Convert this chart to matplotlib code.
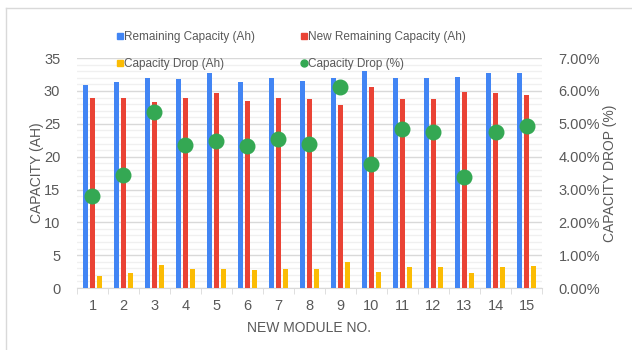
import numpy as np
import matplotlib.pyplot as plt
from matplotlib.lines import Line2D
from matplotlib.ticker import MultipleLocator, FuncFormatter

plt.rcParams['font.family'] = ['Liberation Sans', 'DejaVu Sans']

modules = [str(i) for i in range(1, 16)]
remaining = [30.9, 31.3, 31.9, 31.8, 32.7, 31.3, 32.0, 31.5, 31.9, 33.0, 32.0, 31.9, 32.1, 32.8, 32.7]
new_remaining = [29.0, 28.9, 28.3, 28.9, 29.7, 28.5, 29.0, 28.7, 27.8, 30.6, 28.8, 28.8, 29.9, 29.7, 29.4]
drop_ah = [1.9, 2.3, 3.5, 2.9, 2.9, 2.8, 2.9, 2.9, 4.0, 2.5, 3.2, 3.2, 2.3, 3.2, 3.3]
drop_pct = [2.81, 3.44, 5.35, 4.36, 4.48, 4.33, 4.55, 4.39, 6.11, 3.79, 4.83, 4.75, 3.37, 4.75, 4.93]

BLUE = '#4285F4'
RED = '#EA4335'
YELLOW = '#FBBC04'
GREEN = '#34A853'
TXT = '#595959'

fig = plt.figure(figsize=(6.32, 3.5), dpi=100)
ax = fig.add_axes([0.1218, 0.177, 0.7358, 0.657])

x = np.arange(len(modules))
w = 0.16
off = 0.215
ax.bar(x - off, remaining, w, color=BLUE, zorder=3)
ax.bar(x, new_remaining, w, color=RED, zorder=3)
ax.bar(x + off, drop_ah, w, color=YELLOW, zorder=3)

ax.set_xlim(-0.5, len(modules) - 0.5)
ax.set_ylim(0, 35)
ax.yaxis.set_major_locator(MultipleLocator(5))
ax.yaxis.set_minor_locator(MultipleLocator(1))
ax.grid(which='major', axis='y', color='#d9d9d9', lw=1, zorder=0)
ax.grid(which='minor', axis='y', color='#f0f0f0', lw=1, zorder=0)
ax.set_axisbelow(True)

ax.set_xticks(x)
ax.set_xticklabels(modules)
ax.set_xticks(np.arange(-0.5, len(modules)), minor=True)
ax.tick_params(axis='x', which='major', length=0, pad=8, labelsize=10.5, labelcolor=TXT)
ax.tick_params(axis='x', which='minor', length=4, color='#d9d9d9')
ax.tick_params(axis='y', which='both', length=0, pad=12, labelsize=10.5, labelcolor=TXT)
for s in ['top', 'left', 'right']:
    ax.spines[s].set_visible(False)
ax.spines['bottom'].set_color('#d9d9d9')

ax.set_xlabel('NEW MODULE NO.', fontsize=10, color=TXT, labelpad=6)
ax.set_ylabel('CAPACITY (AH)', fontsize=10, color=TXT, labelpad=0)

ax2 = ax.twinx()
ax2.scatter(x, drop_pct, s=110, color=GREEN, zorder=5, clip_on=False)
ax2.set_ylim(0, 7)
ax2.yaxis.set_major_locator(MultipleLocator(1))
ax2.yaxis.set_major_formatter(FuncFormatter(lambda v, p: f'{v:.2f}%'))
ax2.tick_params(axis='y', length=0, pad=12, labelsize=10.5, labelcolor=TXT)
for s in ax2.spines.values():
    s.set_visible(False)
ax2.set_ylabel('CAPACITY DROP (%)', fontsize=10, color=TXT, labelpad=2)

# legend: two columns, blue/yellow on the left, red/green on the right
handles = [
    Line2D([], [], marker='s', ls='', color=BLUE, markersize=4.5),
    Line2D([], [], marker='s', ls='', color=YELLOW, markersize=4.5),
    Line2D([], [], marker='s', ls='', color=RED, markersize=4.5),
    Line2D([], [], marker='o', ls='', color=GREEN, markersize=5),
]
labels = ['Remaining Capacity (Ah)', 'Capacity Drop (Ah)',
          'New Remaining Capacity (Ah)', 'Capacity Drop (%)']
fig.legend(handles, labels, ncol=2, loc='upper left',
           bbox_to_anchor=(0.165, 0.942), frameon=False, fontsize=8.5,
           labelcolor=TXT, handletextpad=0.0, columnspacing=3.7,
           handlelength=0.8, labelspacing=1.3)

# frame lines around the chart area
fig.add_artist(Line2D([6 / 632, 1], [1 - 8 / 350, 1 - 8 / 350], color='#d9d9d9', lw=1))
fig.add_artist(Line2D([6 / 632, 6 / 632], [0, 1 - 8 / 350], color='#d9d9d9', lw=1))

fig.savefig('out.png', dpi=100)
